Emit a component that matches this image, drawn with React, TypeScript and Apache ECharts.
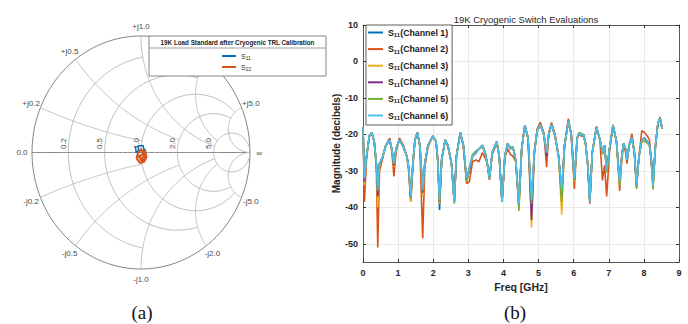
import React, { useEffect, useRef } from 'react';
import * as echarts from 'echarts';

const FONT = '"Liberation Sans", Arial, Helvetica, sans-serif';

// ---------- (b) line chart data ----------
const freq = [
  0.00, 0.04, 0.10, 0.18, 0.25, 0.32, 0.38, 0.42, 0.47, 0.55,
  0.65, 0.76, 0.82, 0.88, 0.94, 1.04, 1.15, 1.25, 1.30, 1.36,
  1.42, 1.48, 1.55, 1.62, 1.70, 1.76, 1.85, 1.99, 2.08, 2.13,
  2.18, 2.24, 2.34, 2.42, 2.52, 2.60, 2.66, 2.77, 2.86, 2.95,
  3.03, 3.12, 3.22, 3.30, 3.40, 3.48, 3.54, 3.60, 3.68, 3.81,
  3.88, 3.96, 4.04, 4.12, 4.20, 4.27, 4.35, 4.44, 4.52, 4.61,
  4.70, 4.80, 4.88, 4.96, 5.05, 5.15, 5.23, 5.29, 5.37, 5.47,
  5.57, 5.66, 5.74, 5.85, 5.93, 6.02, 6.10, 6.15, 6.22, 6.28,
  6.34, 6.40, 6.46, 6.53, 6.65, 6.75, 6.82, 6.88, 6.94, 7.02,
  7.12, 7.22, 7.31, 7.37, 7.42, 7.48, 7.52, 7.58, 7.66, 7.73,
  7.79, 7.86, 7.94, 8.02, 8.10, 8.16, 8.21, 8.26, 8.33, 8.40,
  8.46, 8.52,
];

const channel1 = [
  -18, -32.5, -26, -20.5, -19.5, -22, -28, -36, -28, -26.5,
  -23, -21.3, -24, -28.5, -24, -21.3, -23.5, -26, -29, -37.5,
  -28, -21.5, -19.5, -23, -35.5, -28, -23, -20.5, -22, -27.5,
  -40.7, -27, -21.5, -23, -28, -38.5, -26, -19.5, -23, -32.5,
  -29.5, -26, -25, -24, -23, -25, -28, -32, -25, -22,
  -26, -38.5, -26, -22.5, -24, -23.5, -27, -39, -24, -17.5,
  -21, -39, -25, -19, -17.3, -20, -25, -20, -17.3, -20.5,
  -26, -35.5, -23, -16.3, -20, -32.5, -21, -19.8, -20.2, -20,
  -22.5, -28, -38.5, -25, -18, -21.5, -25, -23, -30, -24,
  -17.5, -22, -33, -26, -22.5, -24, -27, -23, -20.8, -25,
  -34, -26, -21.5, -21, -22, -23, -27, -34, -23, -17,
  -15.5, -18.5,
];

const channel2 = [
  -18, -38.5, -27, -20.5, -19.5, -22, -29, -51, -30, -27,
  -23, -21, -24.5, -31.5, -25, -21, -23, -26, -30, -38.5,
  -29, -21.5, -19.5, -23.5, -48.5, -29, -23.5, -20.5, -22, -27.5,
  -39, -27, -21.5, -23.5, -28, -38.5, -26, -19.5, -23.5, -33.5,
  -33, -27.5, -27, -27.5, -25, -26.5, -28, -32.5, -25.5, -22.5,
  -26, -38.5, -26.5, -24, -25.5, -26, -27.5, -39, -24, -17.5,
  -21, -38.5, -25, -18.5, -16.7, -19.5, -29, -19.5, -16.7, -20,
  -26, -35.5, -23, -15.7, -20, -35, -21, -20, -20.5, -20.3,
  -23, -28.5, -39, -25, -17.8, -22, -32.6, -28.5, -37, -25,
  -17.3, -22, -35.5, -27, -23, -25, -28, -23, -19.8, -25,
  -34.5, -26, -19, -19.5, -20.5, -21.5, -27, -34.5, -23, -17,
  -15.2, -18.4,
];

const channel3 = [
  -18, -34, -26, -20.5, -19.5, -22, -28.5, -40, -28.5, -26.5,
  -23, -21.5, -24, -29, -24, -21.5, -23.5, -26, -29.5, -38.5,
  -28, -21.5, -19.5, -23, -37, -28, -23, -20.5, -22, -27,
  -39, -27, -21.5, -23, -28, -38.5, -26, -19.5, -23, -33,
  -30, -26, -25, -24, -23, -25, -28, -32, -25, -22,
  -26, -38.5, -26, -22.5, -24, -23.5, -27, -40, -24, -17.5,
  -21, -45.5, -25, -19, -17.3, -20, -25.5, -20, -17.3, -20.5,
  -26, -42, -23, -16.3, -20, -33, -21, -19.8, -20.2, -20,
  -22.5, -28, -38.5, -25, -18, -21.5, -25.5, -23, -30.5, -24,
  -17.5, -22, -34, -26, -22.5, -24, -27, -23, -20.8, -25,
  -34.5, -26, -21.5, -21, -22, -23, -27, -34.5, -23, -17,
  -15.5, -18.5,
];

const channel4 = [
  -18, -33, -26, -20.5, -19.5, -22, -28, -37, -28, -26.5,
  -23, -21.5, -24, -28.5, -24, -21.5, -23.5, -26, -29, -37.5,
  -28, -21.5, -19.5, -23, -36, -28, -23, -20.5, -22, -27,
  -38.5, -27, -21.5, -23, -28, -38.5, -26, -19.5, -23, -32.5,
  -30, -26, -25, -24, -23, -25, -28, -32, -25, -22,
  -26, -38.5, -26, -22.5, -24, -23.5, -27, -39.5, -24, -17.5,
  -21, -43.5, -25, -19, -17.3, -20, -26, -20, -17.3, -20.5,
  -26, -37, -23, -16.3, -20, -32.5, -21, -19.8, -20.2, -20,
  -22.5, -28, -38.5, -25, -18, -21.5, -25, -23, -30, -24,
  -17.5, -22, -33, -26, -22.5, -24, -27, -23, -20.8, -25,
  -34, -26, -21.5, -21, -22, -23, -27, -34, -23, -17,
  -15.5, -18.5,
];

const channel5 = [
  -18, -32, -26, -20.5, -19.5, -22, -28, -35.5, -28, -26.5,
  -23, -21.8, -24, -28, -24, -21.8, -23.5, -26, -29, -37.5,
  -28, -21.5, -19.5, -23, -35.5, -28, -23, -20.5, -22, -27,
  -38.5, -27, -21.5, -23, -28, -39, -26, -19.5, -23, -33,
  -29, -25.5, -24.5, -24, -23.5, -25, -28, -32.5, -25, -22,
  -26, -38.5, -26, -22.5, -23.5, -23.5, -27, -41, -24, -17.5,
  -21, -39, -25, -19, -17.5, -20, -25, -20, -17.5, -20.5,
  -26, -38.5, -23, -16.5, -20, -32.5, -21, -19.5, -19.8, -20,
  -22.5, -28, -38.5, -25, -18, -21.5, -25.5, -23, -30.5, -24,
  -17.5, -22, -34, -26, -22.5, -24, -27, -23, -21.5, -25,
  -35, -26, -22, -21.8, -22.5, -23, -27, -35.2, -23, -17,
  -15.5, -18.5,
];

const channel6 = [
  -18, -32, -26, -20.5, -19.5, -22, -28, -35, -28, -26.5,
  -23, -21.5, -24, -28, -24, -21.5, -23.5, -26, -29, -37,
  -28, -21.5, -19.5, -23, -35, -28, -23, -20.5, -22, -27,
  -38, -27, -21.5, -23, -28, -38.5, -26, -19.5, -23, -32,
  -29.5, -26, -25, -24, -23, -25, -28, -32, -25, -22,
  -26, -38.5, -26, -22.5, -24, -23.5, -27, -39, -24, -17.5,
  -21, -38, -25, -19, -17.3, -20, -25, -20, -17.3, -20.5,
  -26, -35, -23, -16.3, -20, -32, -21, -19.8, -20.2, -20,
  -22.5, -28, -38.5, -25, -18, -21.5, -25, -23, -30, -24,
  -17.5, -22, -33, -26, -22.5, -24, -27, -23, -20.8, -25,
  -34, -26, -21.5, -21, -22, -23, -27, -34, -23, -17,
  -15.5, -18.5,
];

const channels = [channel1, channel2, channel3, channel4, channel5, channel6];
const channelNames = [
  'S11(Channel 1)', 'S11(Channel 2)', 'S11(Channel 3)',
  'S11(Channel 4)', 'S11(Channel 5)', 'S11(Channel 6)',
];
const channelColors = ['#0072BD', '#D95319', '#EDB120', '#7E2F8E', '#77AC30', '#4DBEEE'];

// ---------- (a) Smith chart data ----------
const INF = 1e6;
const resistanceValues = [0, 0.2, 0.5, 1, 2, 5];
const resistanceLimits = [INF, 1, 2, 5, 5, INF];
const reactanceValues = [0, 0.2, 0.5, 1, 2, 5, -0.2, -0.5, -1, -2, -5];
const reactanceLimits = [INF, 1, 2, 5, 5, INF, 1, 2, 5, 5, INF];

const s11Gamma = [
  [-0.05, 0.05], [-0.045, 0.0], [-0.02, 0.02], [-0.03, 0.055], [0.02, 0.06],
  [0.03, 0.0], [0.04, 0.03], [0.01, -0.02],
];
const s22Gamma = [
  [0.0, 0.02], [0.04, 0.01], [0.05, -0.04], [0.03, -0.08], [-0.01, -0.09],
  [-0.04, -0.05], [-0.03, -0.01], [0.0, 0.03], [0.03, -0.02], [0.01, -0.06],
  [-0.02, -0.04], [0.02, -0.01], [0.04, -0.06], [0.0, -0.07], [-0.02, -0.02],
];

function gammaOf(r: number, x: number): [number, number] {
  const a = r - 1;
  const c = r + 1;
  const den = c * c + x * x;
  return [(a * c + x * x) / den, (2 * x) / den];
}

function renderSmith(params: any, api: any) {
  const kind = api.value(0);
  const v = api.value(1);
  const lim = api.value(2);
  const phiMax = lim >= INF ? Math.PI / 2 - 1e-5 : Math.atan(lim);
  const pts: number[][] = [];
  const N = 140;
  for (let i = 0; i <= N; i++) {
    if (kind === 0) {
      const phi = -phiMax + (2 * phiMax * i) / N;
      pts.push(api.coord(gammaOf(v, Math.tan(phi))));
    } else {
      const phi = (phiMax * i) / N;
      pts.push(api.coord(gammaOf(Math.tan(phi), v)));
    }
  }
  const major = v === 0;
  const children: any[] = [
    {
      type: 'polyline',
      shape: { points: pts },
      style: {
        stroke: major ? '#858585' : '#b4b4b4',
        lineWidth: major ? 1 : 0.85,
        fill: 'none',
      },
    },
  ];
  const ts = {
    fontSize: 8,
    fontFamily: FONT,
    fill: '#4a4a4a',
    align: 'center',
    verticalAlign: 'middle',
  };
  if (kind === 0) {
    if (v === 0) {
      const p = api.coord([-1, 0]);
      children.push({ type: 'text', x: p[0] - 10, y: p[1], style: { ...ts, text: '0.0' } });
    } else {
      const p = api.coord([(v - 1) / (v + 1), 0]);
      children.push({
        type: 'text', x: p[0] - 5, y: p[1] - 9, rotation: Math.PI / 2,
        style: { ...ts, text: v.toFixed(1) },
      });
    }
  } else {
    if (v === 0) {
      const p = api.coord([1, 0]);
      children.push({ type: 'text', x: p[0] + 9, y: p[1] + 1, style: { ...ts, text: '∞' } });
    } else {
      const g = gammaOf(0, v);
      const p = api.coord(g);
      const len = Math.hypot(g[0], g[1]);
      children.push({
        type: 'text',
        x: p[0] + (g[0] / len) * 10,
        y: p[1] - (g[1] / len) * 10,
        style: { ...ts, text: (v > 0 ? '+j' : '-j') + Math.abs(v).toFixed(1) },
      });
    }
  }
  return { type: 'group', children };
}

const smithGridData = [
  ...resistanceValues.map((r, i) => [0, r, resistanceLimits[i]]),
  ...reactanceValues.map((x, i) => [1, x, reactanceLimits[i]]),
];

const tickLabel = { fontSize: 9, fontWeight: 'bold' as const, color: '#262626', fontFamily: FONT };
const boxLine = { onZero: false, lineStyle: { color: '#333', width: 0.8 } };

const option: any = {
  animation: false,
  textStyle: { fontFamily: FONT },
  title: {
    text: '19K Cryogenic Switch Evaluations',
    left: 521,
    top: 9,
    textAlign: 'center',
    textStyle: { fontSize: 9.5, fontWeight: 'normal', color: '#262626', fontFamily: FONT },
  },
  grid: [
    { left: 32, top: 36, width: 218, height: 233 },
    { left: 363, top: 25, width: 316, height: 237 },
  ],
  xAxis: [
    { gridIndex: 0, type: 'value', min: -1, max: 1, show: false },
    {
      gridIndex: 1, type: 'value', min: 0, max: 9, interval: 1, position: 'bottom',
      axisLine: { show: true, ...boxLine },
      axisTick: { inside: true, length: 3, lineStyle: { color: '#333' } },
      axisLabel: { ...tickLabel, margin: 6 },
      splitLine: { show: true, lineStyle: { color: '#e4e4e4', width: 0.8 } },
      name: 'Freq [GHz]', nameLocation: 'middle', nameGap: 19,
      nameTextStyle: { fontSize: 10.5, fontWeight: 'bold', color: '#262626', fontFamily: FONT },
    },
    {
      gridIndex: 1, type: 'value', min: 0, max: 9, interval: 1, position: 'top',
      axisLine: { show: true, ...boxLine },
      axisTick: { inside: true, length: 3, lineStyle: { color: '#333' } },
      axisLabel: { show: false }, splitLine: { show: false },
    },
  ],
  yAxis: [
    { gridIndex: 0, type: 'value', min: -1, max: 1, show: false },
    {
      gridIndex: 1, type: 'value', min: -55, max: 10, splitNumber: 6, position: 'left',
      axisLine: { show: true, ...boxLine },
      axisTick: { show: true, inside: true, length: 3, lineStyle: { color: '#333' } },
      axisLabel: { ...tickLabel, margin: 5, showMinLabel: false },
      splitLine: { show: true, lineStyle: { color: '#e4e4e4', width: 0.8 } },
      name: 'Magnitude (decibels)', nameLocation: 'middle', nameGap: 22,
      nameTextStyle: { fontSize: 10, fontWeight: 'bold', color: '#262626', fontFamily: FONT },
    },
    {
      gridIndex: 1, type: 'value', min: -55, max: 10, splitNumber: 6, position: 'right',
      axisLine: { show: true, ...boxLine },
      axisTick: { show: true, inside: true, length: 3, lineStyle: { color: '#333' } },
      axisLabel: { show: false }, splitLine: { show: false },
    },
  ],
  legend: [
    {
      data: channelNames,
      left: 366, top: 25, orient: 'vertical',
      padding: [3, 4, 4, 2], itemGap: 6.6, itemWidth: 15, itemHeight: 2, icon: 'rect',
      borderColor: '#333', borderWidth: 0.8, backgroundColor: '#fff', z: 20,
      formatter: (n: string) => `{s|S}{sub|11}{s|${n.slice(3)}}`,
      textStyle: {
        rich: {
          s: { fontSize: 8.8, fontWeight: 'bold', color: '#1a1a1a', fontFamily: FONT, lineHeight: 11 },
          sub: { fontSize: 6, fontWeight: 'bold', color: '#1a1a1a', fontFamily: FONT, lineHeight: 6, verticalAlign: 'bottom' },
        },
      },
    },
    {
      data: ['S11', 'S22'],
      left: 222, top: 52.5, orient: 'vertical',
      padding: 0, itemGap: 3, itemWidth: 14, itemHeight: 2, icon: 'rect', z: 20,
      formatter: (n: string) => `{s|S}{sub|${n.slice(1)}}`,
      textStyle: {
        rich: {
          s: { fontSize: 7, color: '#333', fontFamily: FONT, lineHeight: 9 },
          sub: { fontSize: 5, color: '#333', fontFamily: FONT, lineHeight: 5, verticalAlign: 'bottom' },
        },
      },
    },
  ],
  graphic: [
    {
      type: 'rect', z: 10,
      shape: { x: 149, y: 36, width: 177, height: 40 },
      style: { fill: '#fff', stroke: '#666', lineWidth: 0.8 },
    },
    {
      type: 'line', z: 11,
      shape: { x1: 149, y1: 48, x2: 326, y2: 48 },
      style: { stroke: '#888', lineWidth: 0.8 },
    },
    {
      type: 'text', z: 11, x: 237.5, y: 42.5,
      style: {
        text: '19K Load Standard after Cryogenic TRL Calibration',
        fontSize: 6.3, fontWeight: 'bold', fontFamily: FONT, fill: '#222',
        align: 'center', verticalAlign: 'middle',
      },
    },
    {
      type: 'text', x: 142, y: 312,
      style: {
        text: '(a)', fontSize: 19, fontFamily: '"Liberation Serif", "Times New Roman", serif',
        fill: '#111', align: 'center', verticalAlign: 'middle',
      },
    },
    {
      type: 'text', x: 515, y: 312,
      style: {
        text: '(b)', fontSize: 19, fontFamily: '"Liberation Serif", "Times New Roman", serif',
        fill: '#111', align: 'center', verticalAlign: 'middle',
      },
    },
  ],
  series: [
    {
      type: 'custom', name: 'smithGrid', xAxisIndex: 0, yAxisIndex: 0,
      renderItem: renderSmith, data: smithGridData, clip: false, silent: true, z: 1,
    },
    {
      type: 'line', name: 'S11', xAxisIndex: 0, yAxisIndex: 0, data: s11Gamma,
      symbol: 'none', color: '#0072BD', lineStyle: { width: 1.5 }, z: 3,
    },
    {
      type: 'line', name: 'S22', xAxisIndex: 0, yAxisIndex: 0, data: s22Gamma,
      symbol: 'none', color: '#D95319', lineStyle: { width: 2 }, z: 3,
    },
    ...channels.map((vals, k) => ({
      type: 'line',
      name: channelNames[k],
      xAxisIndex: 1,
      yAxisIndex: 1,
      data: freq.map((f, i) => [f, vals[i]]),
      symbol: 'none',
      color: channelColors[k],
      lineStyle: { width: 1.6 },
      z: 2,
    })),
  ],
};

export default function App() {
  const ref = useRef<HTMLDivElement>(null);
  useEffect(() => {
    document.body.style.margin = '0';
    const chart = echarts.init(ref.current as HTMLDivElement, null, { renderer: 'svg' });
    chart.setOption(option);
    return () => chart.dispose();
  }, []);
  return <div ref={ref} style={{ width: 688, height: 324, background: '#fff' }} />;
}
